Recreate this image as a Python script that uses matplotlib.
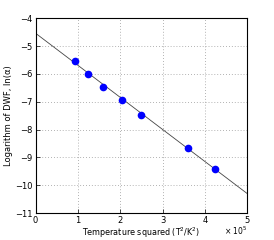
import matplotlib
matplotlib.use("Agg")
import matplotlib.pyplot as plt
import numpy as np

# data (x in units of 1e5 K^2)
temp_sq = [0.93, 1.23, 1.60, 2.03, 2.49, 3.59, 4.24]
ln_dwf = [-5.52, -5.99, -6.47, -6.92, -7.46, -8.67, -9.42]
fit_x = [0, 5]
fit_y = [-4.54, -10.30]
xticks = [0, 1, 2, 3, 4, 5]
yticks = [-11, -10, -9, -8, -7, -6, -5, -4]

plt.rcParams['font.family'] = ['DejaVu Sans']
fig = plt.figure(figsize=(2.74, 2.40), dpi=100)
ax = fig.add_axes([0.130, 0.112, 0.7726, 0.812])

ax.plot(fit_x, fit_y, color='#444444', lw=0.6, zorder=2)
ax.plot(temp_sq, ln_dwf, 'o', color='#0000ff', markersize=5.5, markeredgewidth=0, zorder=3)

ax.set_xlim(0, 5)
ax.set_ylim(-11, -4)
ax.set_xticks(xticks)
ax.set_yticks(yticks)
ax.set_yticklabels(['\u2212%d' % abs(v) for v in yticks])
ax.grid(True, linestyle=(0, (1, 2.5)), color='#999999', lw=0.6)
ax.tick_params(direction='in', labelsize=6, length=3, width=0.5, pad=2)
for s in ax.spines.values():
    s.set_linewidth(0.8)

ax.set_xlabel('Temperature squared (T$^2$/K$^2$)', fontsize=5.8, labelpad=0.5)
ax.set_ylabel('Logarithm of DWF, ln(\u03b1)', fontsize=6, labelpad=2)
fig.text(0.86, 0.012, '$\\times$ 10$^5$', fontsize=5.5, ha='center', va='bottom')

fig.savefig('out.png', dpi=100)
